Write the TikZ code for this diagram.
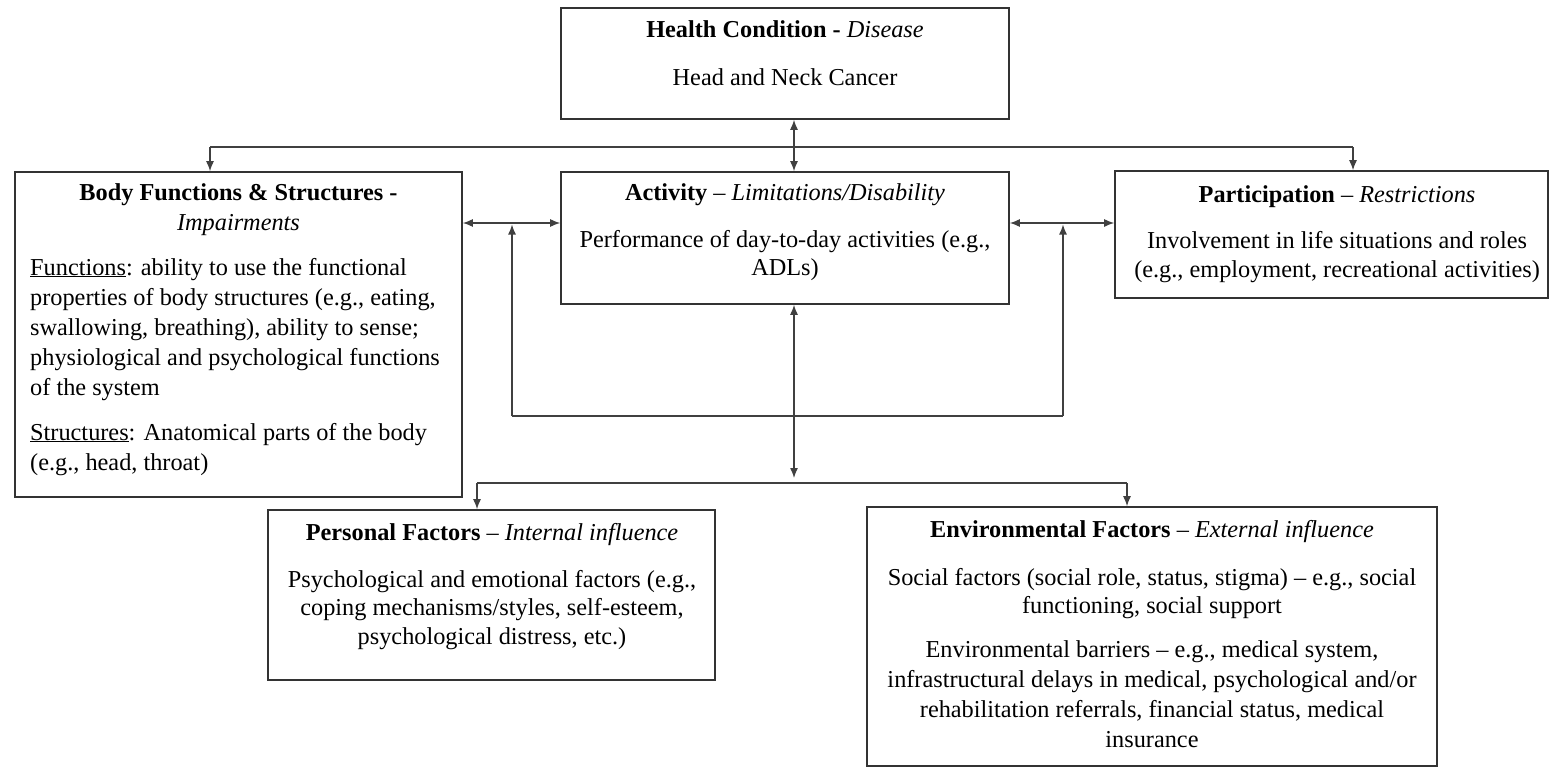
\documentclass[tikz,border=0pt]{standalone}
\usepackage{fontspec}
\setmainfont{Liberation Serif}
\usetikzlibrary{arrows.meta}
\begin{document}
\begin{tikzpicture}[x=1pt,y=-1pt,
  box/.style={draw=black!80, line width=1.6pt, rectangle, inner sep=0pt},
  txt/.style={inner sep=0pt, font=\fontsize{24.3}{29.5}\selectfont, align=center, anchor=base},
  ltxt/.style={inner sep=0pt, font=\fontsize{24.3}{30}\selectfont, align=left, anchor=base west},
  conn/.style={draw=black!75, line width=1.3pt},
  arr/.style={conn, -{Latex[length=10pt,width=8pt]}},
  darr/.style={conn, {Latex[length=10pt,width=8pt]}-{Latex[length=10pt,width=8pt]}}]
\useasboundingbox (0,0) rectangle (1550,768);

% boxes
\node[box, minimum width=448pt, minimum height=111pt] (health) at (785,63.5) {};
\node[box, minimum width=448pt, minimum height=132pt] (act) at (785,238) {};
\node[box, minimum width=433pt, minimum height=127pt] (part) at (1331.5,234.5) {};
\node[box, minimum width=447pt, minimum height=325pt] (body) at (238.5,334.5) {};
\node[box, minimum width=447pt, minimum height=170pt] (pers) at (491.5,595) {};
\node[box, minimum width=570pt, minimum height=259pt] (env) at (1152,636.5) {};

% texts (base anchor = baseline of the last line)
\node[txt] (hT) at (785,38) {\textbf{Health Condition -} \textit{Disease}};
\node[txt] (hB) at (785,85) {Head and Neck Cancer};

\node[txt] (aT) at (785,200) {\textbf{Activity} – \textit{Limitations/Disability}};
\node[txt, font=\fontsize{24.3}{28}\selectfont] (aB) at (785,275) {Performance of day-to-day activities (e.g.,\\ADLs)};

\node[txt] (pT) at (1337,202) {\textbf{Participation} – \textit{Restrictions}};
\node[txt, font=\fontsize{24.3}{29}\selectfont] (pB) at (1337,277) {Involvement in life situations and roles\\(e.g., employment, recreational activities)};

\node[txt, font=\fontsize{24.3}{30}\selectfont] (bT) at (238.5,230) {\textbf{Body Functions \& Structures -}\\\textit{Impairments}};
\node[ltxt] (bF) at (30,395) {\underline{Functions}: ability to use the functional\\properties of body structures (e.g., eating,\\swallowing, breathing), ability to sense;\\physiological and psychological functions\\of the system};
\node[ltxt] (bS) at (30,470) {\underline{Structures}: Anatomical parts of the body\\(e.g., head, throat)};

\node[txt] (perT) at (492,540) {\textbf{Personal Factors} – \textit{Internal influence}};
\node[txt, font=\fontsize{24.3}{28.5}\selectfont] (perB) at (492,644) {Psychological and emotional factors (e.g.,\\coping mechanisms/styles, self-esteem,\\psychological distress, etc.)};

\node[txt] (eT) at (1152,537) {\textbf{Environmental Factors} – \textit{External influence}};
\node[txt, font=\fontsize{24.3}{28}\selectfont] (eS) at (1152,613) {Social factors (social role, status, stigma) – e.g., social\\functioning, social support};
\node[txt, font=\fontsize{24.3}{29.7}\selectfont] (eB) at (1152,747) {Environmental barriers – e.g., medical system,\\infrastructural delays in medical, psychological and/or\\rehabilitation referrals, financial status, medical\\insurance};

% connector coordinates
\coordinate (cBody) at (210,147);
\coordinate (cPart) at (1353,147);
\coordinate (cMid) at (794,147);
\coordinate (row) at (0,223);
\coordinate (loopL) at (512,416);
\coordinate (loopR) at (1063,416);
\coordinate (tipL) at (512,224.5);
\coordinate (tipR) at (1063,224.5);
\coordinate (downTip) at (794,478);
\coordinate (cPers) at (477,483);
\coordinate (cEnv) at (1127,483);

% top distribution
\draw[darr] (health.south -| cMid) -- (act.north -| cMid);
\draw[conn] (cBody) -- (cPart);
\draw[arr] (cBody) -- (cBody |- body.north);
\draw[arr] (cPart) -- (cPart |- part.north);

% side links
\draw[darr] (body.east |- row) -- (act.west |- row);
\draw[darr] (act.east |- row) -- (part.west |- row);

% loop below activity
\draw[conn] (loopL) -- (loopR);
\draw[arr] (loopL) -- (tipL);
\draw[arr] (loopR) -- (tipR);

% down to factors
\draw[darr] (act.south -| cMid) -- (downTip);
\draw[conn] (cPers) -- (cEnv);
\draw[arr] (cPers) -- (cPers |- pers.north);
\draw[arr] (cEnv) -- (cEnv |- env.north);
\end{tikzpicture}
\end{document}
